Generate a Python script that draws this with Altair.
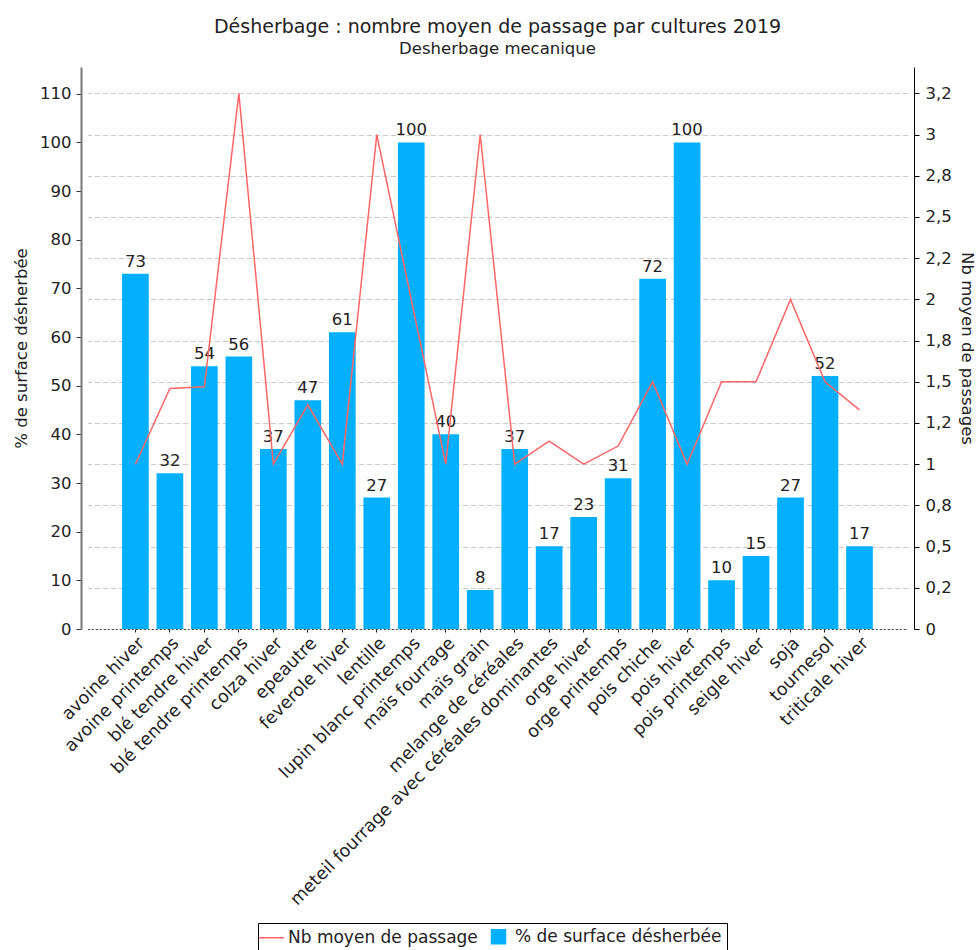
import altair as alt
import pandas as pd

# Cultures et valeurs du graphique
cultures = [
    "avoine hiver", "avoine printemps", "blé tendre hiver", "blé tendre printemps",
    "colza hiver", "epeautre", "feverole hiver", "lentille", "lupin blanc printemps",
    "maïs fourrage", "maïs grain", "melange de céréales",
    "meteil fourrage avec céréales dominantes", "orge hiver", "orge printemps",
    "pois chiche", "pois hiver", "pois printemps", "seigle hiver", "soja",
    "tournesol", "triticale hiver",
]
surface_desherbee = [73, 32, 54, 56, 37, 47, 61, 27, 100, 40, 8, 37, 17, 23, 31, 72, 100, 10, 15, 27, 52, 17]
nb_passages = [1, 1.46, 1.47, 3.25, 1, 1.36, 1, 3, 2, 1, 3, 1, 1.14, 1, 1.11, 1.5, 1, 1.5, 1.5, 2, 1.5, 1.33]

# Graduations des deux axes
surface_ticks = [0, 10, 20, 30, 40, 50, 60, 70, 80, 90, 100, 110]
passage_ticks = [0, 0.25, 0.5, 0.75, 1, 1.25, 1.5, 1.75, 2, 2.25, 2.5, 2.75, 3, 3.25]
passage_tick_labels = ["0", "0,2", "0,5", "0,8", "1", "1,2", "1,5", "1,8", "2", "2,2", "2,5", "2,8", "3", "3,2"]

SERIE_LIGNE = "Nb moyen de passage"
SERIE_BARRE = "% de surface désherbée"
BLEU = "#03B0FF"
ROUGE = "#FF6666"
FONT = "DejaVu Sans"
FS = 16.5

df = pd.DataFrame({"culture": cultures, "surface": surface_desherbee, "passages": nb_passages})

label_expr = "[" + ",".join(f"'{s}'" for s in passage_tick_labels) + "][round(datum.value * 4)]"

# symbole de légende : trait pour la courbe, carré pour les barres
is_line = f"datum.value === '{SERIE_LIGNE}'"
legend = alt.Legend(
    title=None,
    orient="none",
    legendX=177,
    legendY=856,
    direction="horizontal",
    strokeColor="black",
    padding=5,
    labelFont=FONT,
    labelFontSize=17,
    labelColor="#222",
    labelLimit=400,
    symbolType=alt.ExprRef(expr=f"{is_line} ? 'stroke' : 'square'"),
    symbolSize=alt.ExprRef(expr=f"{is_line} ? 625 : 196"),
    symbolFillColor=alt.ExprRef(expr=f"{is_line} ? 'transparent' : '{BLEU}'"),
    symbolStrokeColor=alt.ExprRef(expr=f"{is_line} ? '{ROUGE}' : 'transparent'"),
    symbolStrokeWidth=1.5,
    symbolOpacity=1,
    labelOffset=8,
    columnPadding=10,
)

color_scale = alt.Scale(domain=[SERIE_LIGNE, SERIE_BARRE], range=[ROUGE, BLEU])

x_enc = alt.X(
    "culture:N",
    sort=cultures,
    scale=alt.Scale(paddingInner=0.226, paddingOuter=1, range=[6.6, 826.3]),
    axis=alt.Axis(
        title=None,
        labelAngle=-45,
        labelAlign="right",
        labelBaseline="top",
        labelFontSize=17.5,
        labelColor="#222",
        labelLimit=600,
        labelPadding=2,
        tickSize=3,
        tickColor="#222",
        domainColor="#333",
        domainDash=[1.5, 2.5],
        grid=False,
    ),
)

y_left = alt.Y(
    "surface:Q",
    scale=alt.Scale(domain=[0, 115.5], nice=False),
    axis=alt.Axis(
        orient="left",
        values=surface_ticks,
        grid=False,
        domainColor="#777",
        domainWidth=2,
        tickColor="#333",
        tickSize=5,
        labelFontSize=FS,
        labelColor="#222",
        labelPadding=5,
        title=SERIE_BARRE,
        titleFontSize=FS,
        titleFontWeight="normal",
        titleColor="#222",
        titlePadding=10,
    ),
)

bars = alt.Chart(df).transform_calculate(
    serie=f"'{SERIE_BARRE}'"
).mark_bar(color=BLEU).encode(
    x=x_enc,
    y=y_left,
    color=alt.Color("serie:N", scale=color_scale, legend=legend),
)

labels = alt.Chart(df).mark_text(
    baseline="bottom", dy=-4, fontSize=FS, font=FONT, color="#222"
).encode(
    x=alt.X("culture:N", sort=cultures),
    y=alt.Y("surface:Q"),
    text=alt.Text("surface:Q"),
)

line = alt.Chart(df).transform_calculate(
    serie=f"'{SERIE_LIGNE}'"
).mark_line(strokeWidth=1.5).encode(
    x=alt.X("culture:N", sort=cultures),
    y=alt.Y(
        "passages:Q",
        scale=alt.Scale(domain=[0, 3.41], nice=False),
        axis=alt.Axis(
            orient="right",
            values=passage_ticks,
            labelExpr=label_expr,
            grid=True,
            gridDash=[5, 3],
            gridColor="#c8c8c8",
            domainColor="black",
            tickColor="black",
            tickSize=5,
            labelFontSize=FS,
            labelColor="#222",
            labelPadding=6,
            title="Nb moyen de passages",
            titleFontSize=FS,
            titleFontWeight="normal",
            titleColor="#222",
            titlePadding=7,
        ),
    ),
    color=alt.Color("serie:N", scale=color_scale, legend=legend),
)

left = alt.layer(bars, labels)

chart = (
    alt.layer(left, line)
    .resolve_scale(y="independent")
    .properties(
        width=833,
        height=562,
        autosize=alt.AutoSizeParams(type="none"),
        padding={"left": 81, "top": 67, "right": 62, "bottom": 321},
        title=alt.Title(
            "Désherbage : nombre moyen de passage par cultures 2019",
            subtitle="Desherbage mecanique",
            font=FONT,
            fontSize=19,
            fontWeight="normal",
            color="#222",
            subtitleFont=FONT,
            subtitleFontSize=16.5,
            subtitleColor="#222",
            subtitlePadding=4,
            anchor="middle",
            offset=10,
        ),
    )
    .configure_view(stroke=None)
    .configure_axis(labelFont=FONT, titleFont=FONT)
)

chart.save("out.html", embed_options={"renderer": "svg", "actions": False})
